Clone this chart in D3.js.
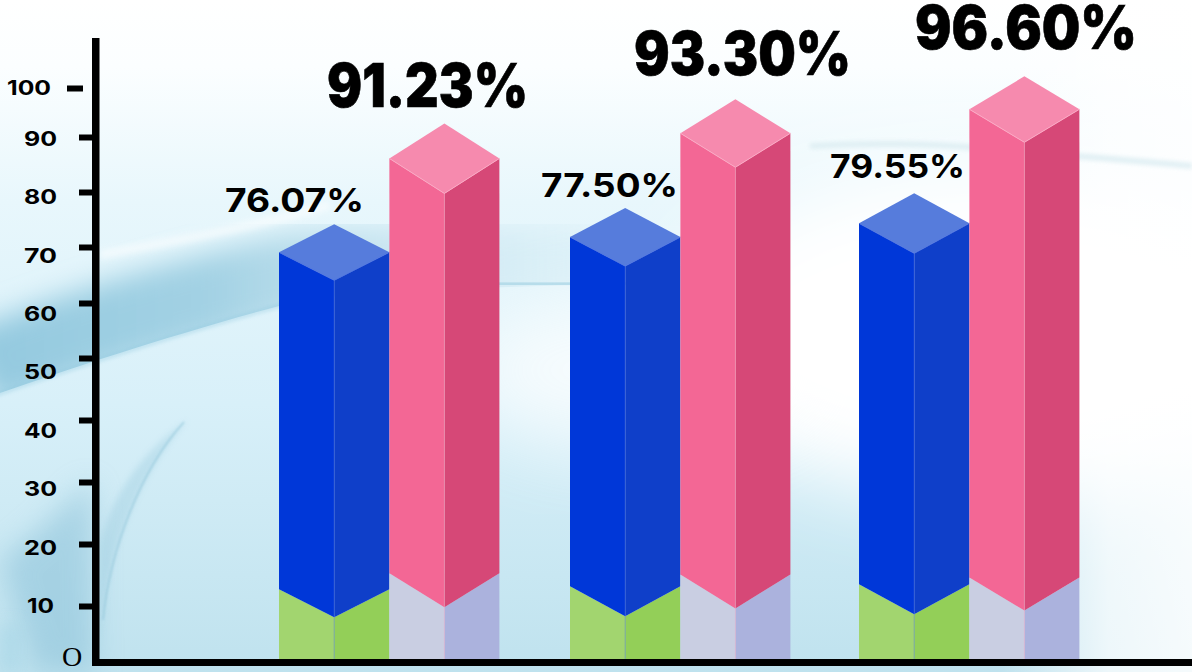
<!DOCTYPE html>
<html><head><meta charset="utf-8">
<style>html,body{margin:0;padding:0;background:#fff;overflow:hidden}svg{display:block}text{font-family:Inter,"Noto Sans",sans-serif;fill:#000}</style>
<script src="https://cdn.jsdelivr.net/npm/d3@7"></script>
</head><body><svg id="c" width="1192" height="672"></svg>
<script>
// Data
const groups = ["A", "B", "C"];
const blueLabels = ["76.07%", "77.50%", "79.55%"];
const pinkLabels = ["91.23%", "93.30%", "96.60%"];
const blueHeights = [69.05, 71.8, 74.3];
const pinkHeights = [86.1, 90.76, 95.65];
const greenHeights = [12.7, 13.2, 13.5];
const lavenderHeights = [15.3, 15.1, 14.6];
const tickValues = [100, 90, 80, 70, 60, 50, 40, 30, 20, 10];
const tickPixels = [88, 137, 192, 247, 303, 358, 420, 482, 544, 606];

const W = 1192, H = 672, baseY = 659;
const svg = d3.select("#c");
const defs = svg.append("defs");
const f = (id, s) => defs.append("filter").attr("id", id).attr("x", "-40%").attr("y", "-40%").attr("width", "180%").attr("height", "180%").append("feGaussianBlur").attr("stdDeviation", s);
f("b2", 2); f("b3", 3); f("b8", 8); f("b14", 14); f("b20", 20); f("b40", 40); f("b1", 0.8);
const lg = (id, stops, x2 = 0, y2 = 1) => {
  const g = defs.append("linearGradient").attr("id", id).attr("x1", 0).attr("y1", 0).attr("x2", x2).attr("y2", y2);
  stops.forEach(s => g.append("stop").attr("offset", s[0]).attr("stop-color", s[1]).attr("stop-opacity", s[2] ?? 1));
};
lg("bg", [[0, "#ffffff"], [0.1, "#fbfeff"], [0.3, "#e8f7fc"], [0.6, "#d8f0f9"], [1, "#bfe2ee"]]);
lg("fadeR", [[0, "#ffffff", 0], [0.84, "#ffffff", 0], [0.93, "#ffffff", 0.72], [1, "#ffffff", 0.85]], 1, 0);
lg("band", [[0, "#93c9df", 1], [0.35, "#a0d0e3", 0.95], [0.62, "#b8dcea", 0.6], [1, "#d8eef6", 0.3]], 1, 0);
defs.append("clipPath").attr("id", "above").append("path")
  .attr("d", "M-20,400 C60,372 170,335 290,303 C360,288 500,288 650,283 L650,0 L-20,0 Z");

// Background artwork
const bg = svg.append("g");
bg.append("rect").attr("width", W).attr("height", H).attr("fill", "url(#bg)");
bg.append("ellipse").attr("cx", 1000).attr("cy", 330).attr("rx", 330).attr("ry", 170).attr("fill", "#fff").attr("filter", "url(#b40)");
bg.append("ellipse").attr("cx", 640).attr("cy", 370).attr("rx", 190).attr("ry", 80).attr("fill", "#fff").attr("opacity", .75).attr("filter", "url(#b40)");
bg.append("rect").attr("width", W).attr("height", H).attr("fill", "url(#fadeR)");
// main swoosh: sharp lower edge, soft upper edge
const sw = bg.append("g").attr("clip-path", "url(#above)");
sw.append("path").attr("d", "M-20,372 C60,335 170,305 290,275 C360,262 500,268 650,268")
  .attr("fill", "none").attr("stroke", "url(#band)").attr("stroke-width", 82).attr("filter", "url(#b14)");
bg.append("path").attr("d", "M-20,400 C60,372 170,335 290,303")
  .attr("fill", "none").attr("stroke", "#8cc6dd").attr("stroke-width", 3).attr("opacity", .55).attr("filter", "url(#b2)");
bg.append("path").attr("d", "M490,284 C540,284 600,284 650,283")
  .attr("fill", "none").attr("stroke", "#a5d3e4").attr("stroke-width", 2.5).attr("filter", "url(#b1)");
// pale highlight over the swoosh and far band
bg.append("path").attr("d", "M100,255 C180,240 250,228 330,205").attr("fill", "none").attr("stroke", "#ffffff").attr("stroke-width", 9).attr("opacity", .55).attr("filter", "url(#b3)");
bg.append("path").attr("d", "M810,146 C860,143 930,143 980,148 C1060,155 1130,160 1192,166")
  .attr("fill", "none").attr("stroke", "#dcedf2").attr("stroke-width", 6).attr("opacity", .85).attr("filter", "url(#b2)");
// left lower shading
bg.append("path").attr("d", "M0,560 C30,540 60,510 92,480 L94,672 L35,672 Z").attr("fill", "#84bdd6").attr("opacity", .5).attr("filter", "url(#b14)");
bg.append("path").attr("d", "M0,625 L20,625 L20,672 L0,672 Z").attr("fill", "#a6d5e6").attr("opacity", .6).attr("filter", "url(#b8)");
bg.append("path").attr("d", "M100,640 C104,565 134,480 188,420 C150,445 112,490 100,545 Z").attr("fill", "#8cc2d8").attr("opacity", .3).attr("filter", "url(#b3)");
bg.append("path").attr("d", "M103,620 C110,550 140,470 184,422").attr("fill", "none").attr("stroke", "#8fc4d9").attr("stroke-width", 1.4).attr("opacity", .75).attr("filter", "url(#b1)");

// Scales and axis
const y = d3.scaleLinear().domain([0].concat(tickValues.slice().reverse())).range([baseY].concat(tickPixels.slice().reverse()));
const labelY = d3.scaleLinear().domain([10, 90, 100]).range([605, 138, 87]);
const groupX = d3.scaleOrdinal().domain(groups).range([279, 570, 859]);
const halfW = 55.2, lavW = 55;

const axis = d3.axisLeft(y).tickValues(tickValues).tickSize(13).tickFormat("").tickSizeOuter(0);
const ax = svg.append("g").attr("transform", "translate(92,0)").call(axis);
ax.select(".domain").remove();
ax.selectAll(".tick line").attr("stroke", "#000").attr("stroke-width", 6);
ax.selectAll(".tick").filter(d => d === 100).select("line").attr("x1", -25).attr("x2", -9);
svg.append("rect").attr("x", 92).attr("y", 38).attr("width", 7.5).attr("height", 628).attr("fill", "#000");
svg.append("rect").attr("x", 92).attr("y", 659).attr("width", W - 92).attr("height", 7).attr("fill", "#000");

svg.append("g").selectAll("text").data(tickValues).join("text")
  .attr("x", d => d === 100 ? 51 : d === 10 ? 54 : 57).attr("y", d => labelY(d) + 0.7).attr("dy", "0.36em")
  .attr("text-anchor", "end").attr("font-size", 20).attr("font-weight", 700)
  .attr("textLength", d => d === 100 ? 44 : d === 10 ? 27 : 33).attr("lengthAdjust", "spacingAndGlyphs").text(d => d);
svg.append("text").attr("x", 72).attr("y", 665.5).attr("text-anchor", "middle").attr("font-size", 28)
  .style("font-family", "'Liberation Serif',serif").text("O");

// 3D column drawing
function column(g, x0, w, topVal, lowVal, depth, lowDepth, c) {
  const top = y(topVal), low = y(lowVal);
  const xm = x0 + w, xr = x0 + 2 * w;
  const poly = pts => pts.map(p => p.join(",")).join(" ");
  g.append("polygon").attr("points", poly([[x0, baseY], [x0, low], [xm, low + lowDepth], [xm, baseY]])).attr("fill", c.lowL);
  g.append("polygon").attr("points", poly([[xm, baseY], [xm, low + lowDepth], [xr, low], [xr, baseY]])).attr("fill", c.lowR);
  g.append("polygon").attr("points", poly([[x0, low], [x0, top], [xm, top + depth], [xm, low + lowDepth]])).attr("fill", c.left);
  g.append("polygon").attr("points", poly([[xm, low + lowDepth], [xm, top + depth], [xr, top], [xr, low]])).attr("fill", c.right);
  g.append("polygon").attr("points", poly([[x0, top], [xm, top - depth], [xr, top], [xm, top + depth]])).attr("fill", c.top);
  g.append("polyline").attr("points", poly([[x0, top], [xm, top + depth], [xr, top]])).attr("fill", "none").attr("stroke", c.edge).attr("stroke-width", 1);
  g.append("line").attr("x1", xm).attr("x2", xm).attr("y1", top + depth).attr("y2", baseY).attr("stroke", c.edge).attr("stroke-opacity", .45).attr("stroke-width", 1);
}
const blue = { left: "#0037d8", right: "#0f3fc9", top: "#567cdc", lowL: "#a2d56f", lowR: "#93cf58", edge: "#4f74df" };
const pink = { left: "#f36795", right: "#d64877", top: "#f68aae", lowL: "#c9cee2", lowR: "#abb2dd", edge: "#fba9c4" };
const blueDepth = [28, 29, 30], pinkDepth = [35, 34, 33], greenDepth = [28, 30, 30], lavDepth = [34, 34, 33];
const bars = svg.append("g");
groups.forEach((k, i) => {
  const x0 = groupX(k);
  column(bars, x0, halfW, blueHeights[i], greenHeights[i], blueDepth[i], greenDepth[i], blue);
  column(bars, x0 + 2 * halfW, lavW, pinkHeights[i], lavenderHeights[i], pinkDepth[i], lavDepth[i], pink);
});

// Value labels
const blueLabelPos = [[294.5, 212, 139], [609.5, 197, 137], [897.5, 178, 135]];
const pinkLabelPos = [[427.5, 107, 201], [742.5, 75, 217], [1026, 49, 222]];
svg.append("g").selectAll("text").data(blueLabels).join("text")
  .attr("x", (d, i) => blueLabelPos[i][0]).attr("y", (d, i) => blueLabelPos[i][1])
  .attr("text-anchor", "middle").attr("font-size", 33).attr("font-weight", 700)
  .attr("textLength", (d, i) => blueLabelPos[i][2]).attr("lengthAdjust", "spacingAndGlyphs").text(d => d);
svg.append("g").selectAll("text").data(pinkLabels).join("text")
  .attr("x", (d, i) => pinkLabelPos[i][0]).attr("y", (d, i) => pinkLabelPos[i][1])
  .attr("text-anchor", "middle").attr("font-size", 60).attr("font-weight", 900)
  .attr("stroke", "#000").attr("stroke-width", 0.6)
  .attr("textLength", (d, i) => pinkLabelPos[i][2]).attr("lengthAdjust", "spacingAndGlyphs").text(d => d);
</script></body></html>
